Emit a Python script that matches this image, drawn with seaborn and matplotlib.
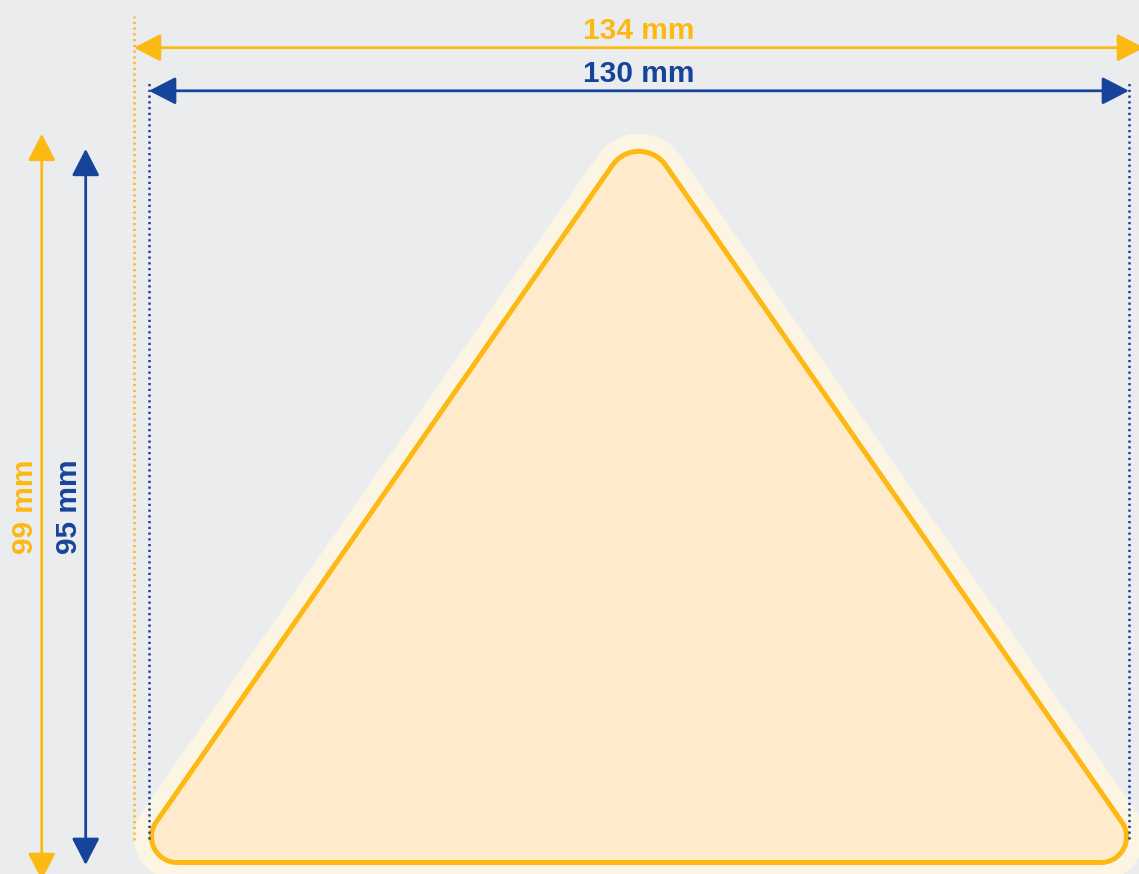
import numpy as np
import pandas as pd
import matplotlib
matplotlib.use("Agg")
import matplotlib.pyplot as plt
import seaborn as sns
from matplotlib.patches import FancyArrowPatch, Polygon

# ---------------- data (mm) ----------------
dim_names = ["outer_width", "inner_width", "outer_height", "inner_height"]
dim_values = [134, 130, 99, 95]
dim_labels = ["134 mm", "130 mm", "99 mm", "95 mm"]
corner_radius_bottom_mm = 3.4
corner_radius_top_mm = 4.3

outer_w, inner_w, outer_h, inner_h = dim_values
margin = (outer_w - inner_w) / 2.0

# ---------------- style ----------------
ORANGE = "#FDB913"
BLUE = "#17449B"
BG = "#EBECEE"
HALO = "#FDF5E4"
FILL = "#FFEBCC"

sns.set_style("white", {"axes.facecolor": BG, "figure.facecolor": BG})
plt.rcParams["font.family"] = ["Liberation Sans", "DejaVu Sans"]

DPI = 100
W_PX, H_PX = 1139, 874
PX_PER_MM = 7.5385
ORIGIN_PX = (149, 865)  # pixel position of (0 mm, 0 mm)
PT_PER_MM = PX_PER_MM * 72.0 / DPI

fig = plt.figure(figsize=(W_PX / DPI, H_PX / DPI), dpi=DPI)
fig.patch.set_facecolor(BG)
ax = fig.add_axes([0, 0, 1, 1])
ax.set_facecolor(BG)
x0 = -ORIGIN_PX[0] / PX_PER_MM
y0 = -(H_PX - ORIGIN_PX[1]) / PX_PER_MM
ax.set_xlim(x0, x0 + W_PX / PX_PER_MM)
ax.set_ylim(y0, y0 + H_PX / PX_PER_MM)
ax.axis("off")

# ---------------- rounded triangle ----------------
STROKE_PT = 3.6
half_stroke_mm = STROKE_PT / PT_PER_MM / 2


def rounded_triangle(left, right, bottom, top, rb, rt, n=40):
    cx = (left + right) / 2
    xl, ya = left, top
    for _ in range(60):
        theta = np.arctan((cx - xl) / (ya - bottom))
        beta = np.pi / 2 - theta
        xl = left - rb * (1 / np.tan(beta / 2) - 1)
        ya = top + rt * (1 / np.sin(theta) - 1)
    verts = [np.array([xl, bottom]), np.array([2 * cx - xl, bottom]), np.array([cx, ya])]
    radii = [rb, rb, rt]
    pts = []
    for i, V in enumerate(verts):
        P = verts[i - 1]
        N = verts[(i + 1) % 3]
        r = radii[i]
        u1 = (P - V) / np.linalg.norm(P - V)
        u2 = (N - V) / np.linalg.norm(N - V)
        alpha = np.arccos(np.clip(np.dot(u1, u2), -1, 1))
        bis = (u1 + u2) / np.linalg.norm(u1 + u2)
        C = V + bis * r / np.sin(alpha / 2)
        T1 = V + u1 * r / np.tan(alpha / 2)
        T2 = V + u2 * r / np.tan(alpha / 2)
        a1 = np.arctan2(*(T1 - C)[::-1])
        a2 = np.arctan2(*(T2 - C)[::-1])
        d = (a2 - a1 + np.pi) % (2 * np.pi) - np.pi
        ang = a1 + np.linspace(0, 1, n) * d
        pts.extend(np.column_stack([C[0] + r * np.cos(ang), C[1] + r * np.sin(ang)]))
    return np.array(pts)


tri = rounded_triangle(half_stroke_mm, inner_w - half_stroke_mm,
                       half_stroke_mm, inner_h - half_stroke_mm,
                       corner_radius_bottom_mm, corner_radius_top_mm)

halo_lw = 2 * (margin + half_stroke_mm) * PT_PER_MM
ax.add_patch(Polygon(tri, closed=True, fc=HALO, ec=HALO, lw=halo_lw,
                     joinstyle="round", zorder=1))
ax.add_patch(Polygon(tri, closed=True, fc=FILL, ec=ORANGE, lw=STROKE_PT,
                     joinstyle="round", zorder=2))

# ---------------- extension (dotted) lines ----------------
ext = pd.DataFrame({
    "x": [-margin, -margin, 0, 0, inner_w, inner_w],
    "y": [3.3, 112.6, 3.45, 104.0, 3.45, 104.0],
    "line": ["o", "o", "b1", "b1", "b2", "b2"],
})
for key, color in [("o", ORANGE), ("b1", BLUE), ("b2", BLUE)]:
    sub = ext[ext["line"] == key]
    sns.lineplot(data=sub, x="x", y="y", sort=False, estimator=None, ax=ax,
                 color=color, lw=1.8, linestyle=(0, (0.9, 1.4)), zorder=5,
                 legend=False)
ax.set_xlabel("")
ax.set_ylabel("")
ax.set_xlim(x0, x0 + W_PX / PX_PER_MM)
ax.set_ylim(y0, y0 + H_PX / PX_PER_MM)

# ---------------- dimension arrows ----------------
H_DIM_Y = {"outer": 108.42, "inner": 102.70}
V_DIM_X = {"outer": -14.23, "inner": -8.40}
LABEL_GAP = 1.2


def dim_arrow(p0, p1, color):
    a = FancyArrowPatch(p0, p1, arrowstyle="<|-|>,head_length=16.5,head_width=8.5",
                        mutation_scale=1, lw=2, color=color, shrinkA=0, shrinkB=0,
                        zorder=6, clip_on=False)
    ax.add_patch(a)


dim_arrow((-margin, H_DIM_Y["outer"]), (inner_w + margin, H_DIM_Y["outer"]), ORANGE)
dim_arrow((0, H_DIM_Y["inner"]), (inner_w, H_DIM_Y["inner"]), BLUE)
dim_arrow((V_DIM_X["outer"], -margin), (V_DIM_X["outer"], inner_h + margin), ORANGE)
dim_arrow((V_DIM_X["inner"], 0), (V_DIM_X["inner"], inner_h), BLUE)

font = dict(fontsize=21.5, fontweight="bold")
ax.text(inner_w / 2, H_DIM_Y["outer"] + LABEL_GAP, dim_labels[0], ha="center",
        va="baseline", color=ORANGE, zorder=7, **font)
ax.text(inner_w / 2, H_DIM_Y["inner"] + LABEL_GAP, dim_labels[1], ha="center",
        va="baseline", color=BLUE, zorder=7, **font)
ax.text(V_DIM_X["outer"] - LABEL_GAP, inner_h / 2, dim_labels[2], rotation=90,
        rotation_mode="anchor", ha="center", va="baseline", color=ORANGE, zorder=7, **font)
ax.text(V_DIM_X["inner"] - LABEL_GAP, inner_h / 2, dim_labels[3], rotation=90,
        rotation_mode="anchor", ha="center", va="baseline", color=BLUE, zorder=7, **font)

fig.savefig("out.png", dpi=DPI, facecolor=BG)
